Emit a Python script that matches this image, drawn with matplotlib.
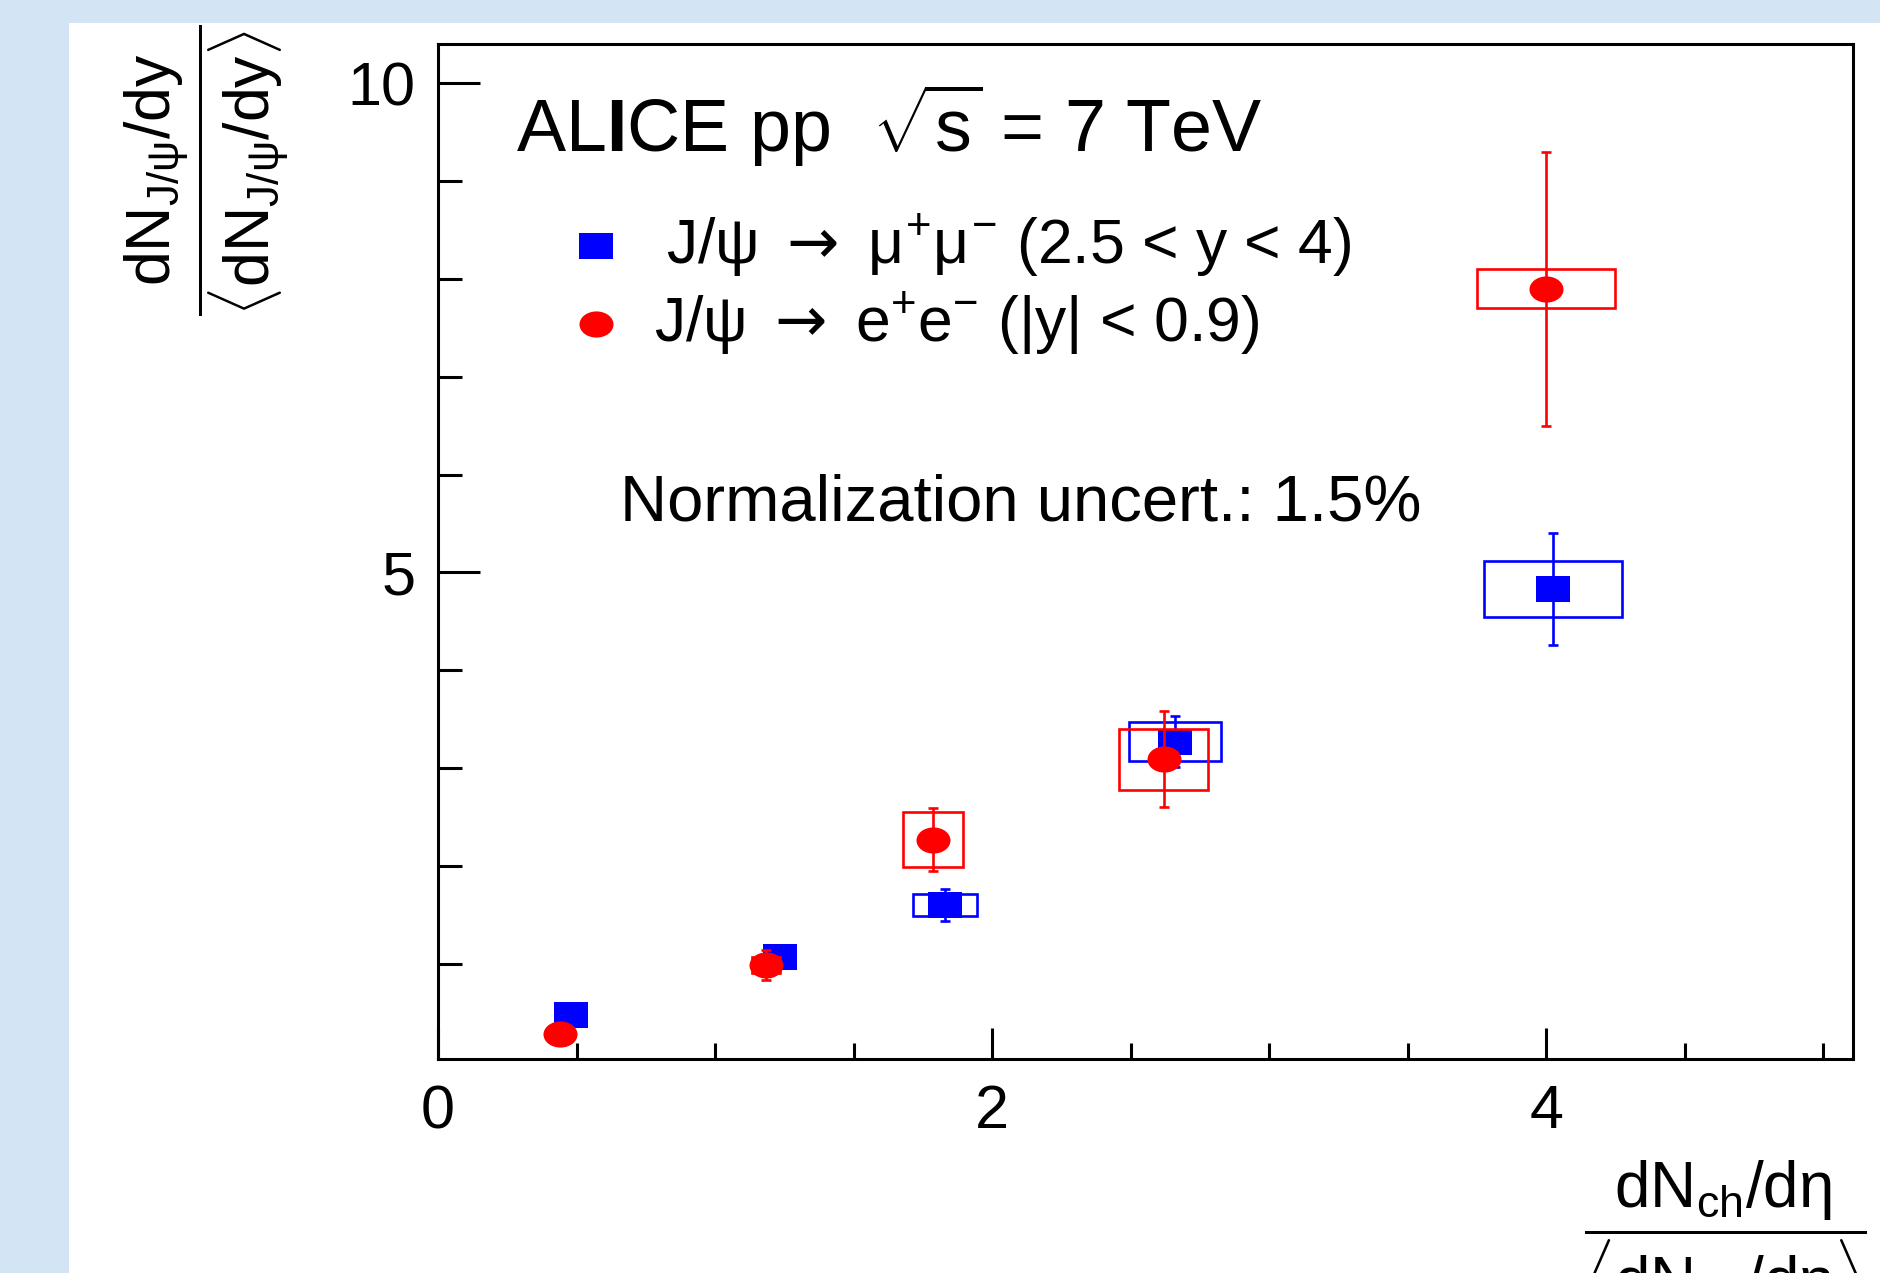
import numpy as np
import matplotlib
matplotlib.use('Agg')
import matplotlib.pyplot as plt
from matplotlib.patches import Rectangle
from matplotlib.path import Path
from matplotlib.ticker import FixedLocator, MultipleLocator

plt.rcParams['font.family'] = ['Liberation Sans', 'DejaVu Sans']
plt.rcParams['mathtext.fontset'] = 'custom'
plt.rcParams['mathtext.rm'] = 'Liberation Sans'
plt.rcParams['mathtext.it'] = 'Liberation Sans'
plt.rcParams['mathtext.sf'] = 'DejaVu Sans'
plt.rcParams['mathtext.bf'] = 'Liberation Sans:bold'

# J/psi -> mu+ mu-  (forward rapidity)
mu_x = [0.48, 1.235, 1.83, 2.66, 4.025]
mu_y = [0.48, 1.07, 1.60, 3.27, 4.83]
mu_stat = [0.03, 0.06, 0.16, 0.26, 0.57]
mu_sys = [0.03, 0.06, 0.11, 0.20, 0.29]
mu_xsys = [0.03, 0.05, 0.115, 0.165, 0.25]

# J/psi -> e+ e-  (mid rapidity)
el_x = [0.44, 1.185, 1.787, 2.62, 4.0]
el_y = [0.28, 0.99, 2.27, 3.09, 7.90]
el_stat = [0.05, 0.15, 0.32, 0.49, 1.40]
el_sys = [0.03, 0.08, 0.28, 0.31, 0.20]
el_xsys = [0.03, 0.05, 0.107, 0.16, 0.25]

x_major = [0, 2, 4]
y_major = [5, 10]

# markers look a bit wider than tall in the original
sq = Path([(-1.3, -1), (1.3, -1), (1.3, 1), (-1.3, 1), (-1.3, -1)],
          [Path.MOVETO, Path.LINETO, Path.LINETO, Path.LINETO, Path.CLOSEPOLY])
circ0 = Path.unit_circle()
circ = Path(circ0.vertices * np.array([1.3, 1.0]), circ0.codes)

fig = plt.figure(figsize=(18.81, 12.73), dpi=100, facecolor='#d3e4f4')
fig.patches.append(Rectangle((0.0367, 0), 1.0, 0.9819, transform=fig.transFigure,
                             facecolor='white', edgecolor='none', zorder=-1))

ax = fig.add_axes([0.2329, 0.1679, 0.7522, 0.7975])


def draw_series(x, y, stat, sys_y, sys_x, color, marker, z):
    for xi, yi, sx, sy in zip(x, y, sys_x, sys_y):
        ax.add_patch(Rectangle((xi - sx, yi - sy), 2 * sx, 2 * sy, fill=False,
                               edgecolor=color, lw=1.9, zorder=z))
    ax.errorbar(x, y, yerr=stat, fmt='none', ecolor=color, elinewidth=1.9,
                capsize=3.5, capthick=1.9, zorder=z + 1)
    ax.plot(x, y, linestyle='none', marker=marker, markersize=24.5, color=color,
            markeredgewidth=0, zorder=z + 2)


draw_series(mu_x, mu_y, mu_stat, mu_sys, mu_xsys, '#0000ff', sq, 2)
draw_series(el_x, el_y, el_stat, el_sys, el_xsys, '#ff0000', circ, 6)

ax.set_xlim(0, 5.108)
ax.set_ylim(0.025, 10.4)
ax.xaxis.set_major_locator(FixedLocator(x_major))
ax.xaxis.set_minor_locator(MultipleLocator(0.5))
ax.yaxis.set_major_locator(FixedLocator(y_major))
ax.yaxis.set_minor_locator(MultipleLocator(1))
ax.tick_params(which='both', direction='in', top=False, right=False, width=2.2)
ax.tick_params(axis='x', which='major', length=22, pad=18, labelsize=44)
ax.tick_params(axis='x', which='minor', length=11.5)
ax.tick_params(axis='y', which='major', length=30, pad=16, labelsize=44)
ax.tick_params(axis='y', which='minor', length=17)
for sp in ax.spines.values():
    sp.set_linewidth(2.2)

ax.text(0.055, 0.920, r'AL$\mathbf{I}$CE pp  $\sqrt{s}$ = 7 TeV', transform=ax.transAxes,
        fontsize=53, va='center', ha='left')

# legend, drawn by hand like the ROOT TLegend
ax.plot([0.1117], [0.801], transform=ax.transAxes, marker=sq, markersize=24.5,
        color='#0000ff', linestyle='none', markeredgewidth=0, clip_on=False)
ax.plot([0.1117], [0.724], transform=ax.transAxes, marker=circ, markersize=24.5,
        color='#ff0000', linestyle='none', markeredgewidth=0, clip_on=False)
ax.text(0.1611, 0.801, r'J/$\psi\ \mathsf{\rightarrow}\ \mu^{+}\mu^{-}$ (2.5 < y < 4)',
        transform=ax.transAxes, fontsize=45, va='center', ha='left')
ax.text(0.1527, 0.724, r'J/$\psi\ \mathsf{\rightarrow}\ \mathrm{e}^{+}\mathrm{e}^{-}$ (|y| < 0.9)',
        transform=ax.transAxes, fontsize=45, va='center', ha='left')

ax.text(0.1286, 0.547, 'Normalization uncert.: 1.5%', transform=ax.transAxes,
        fontsize=47, va='center', ha='left')

# axis titles as fractions
fig.text(0.110, 0.866,
         r'$\dfrac{\mathrm{dN}_{\mathrm{J}/\psi}/\mathrm{dy}}{\langle\mathrm{dN}_{\mathrm{J}/\psi}/\mathrm{dy}\rangle}$',
         rotation=90, fontsize=45, ha='center', va='center')
fig.text(0.917, 0.027,
         r'$\dfrac{\mathrm{dN}_{\mathrm{ch}}/\mathrm{d}\eta}{\langle\mathrm{dN}_{\mathrm{ch}}/\mathrm{d}\eta\rangle}$',
         fontsize=46, ha='center', va='center')

fig.savefig('out.png', dpi=100, facecolor=fig.get_facecolor())
